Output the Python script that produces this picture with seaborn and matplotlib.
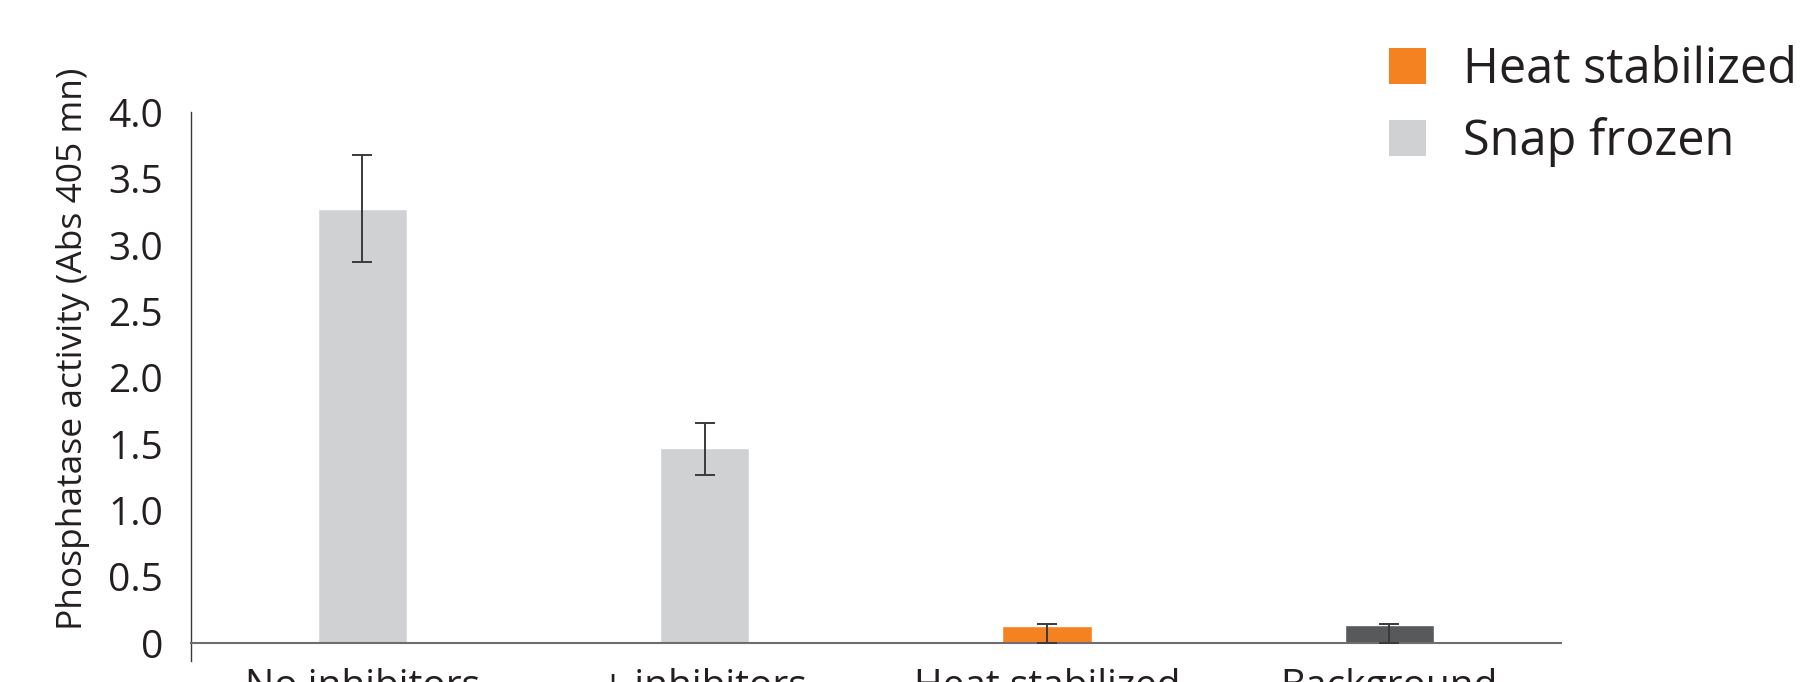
import matplotlib
matplotlib.use("Agg")
import matplotlib.pyplot as plt
from matplotlib.patches import Patch
from matplotlib.ticker import FixedLocator, FuncFormatter
import seaborn as sns
import pandas as pd

# Phosphatase activity per sample treatment
categories = ["No inhibitors", "+ inhibitors", "Heat stabilized", "Background"]
activity = [3.27, 1.47, 0.13, 0.138]
err_low = [0.40, 0.20, 0.13, 0.138]
err_high = [0.41, 0.19, 0.016, 0.008]
bar_colors = ["#d0d1d3", "#d0d1d3", "#f58220", "#58595b"]
legend_labels = ["Heat stabilized", "Snap frozen"]
legend_colors = ["#f58220", "#d0d1d3"]
y_ticks = [0, 0.5, 1.0, 1.5, 2.0, 2.5, 3.0, 3.5, 4.0]

sns.set_style("white")
plt.rcParams["font.family"] = ["Open Sans", "DejaVu Sans"]
TEXT = "#231f20"

df = pd.DataFrame({"sample": categories, "activity": activity})

fig = plt.figure(figsize=(18.05, 6.82), dpi=100)
ax = fig.add_axes([0.1058, 0.0312, 0.7588, 0.8041])

sns.barplot(data=df, x="sample", y="activity", hue="sample",
            palette=bar_colors, width=0.26, errorbar=None,
            legend=False, saturation=1, ax=ax, zorder=2)

ax.errorbar(range(len(categories)), activity, yerr=[err_low, err_high],
            fmt="none", ecolor="#3a3a3c", elinewidth=1.4, capsize=7.2,
            capthick=1.4, zorder=3)

ax.set_xlim(-0.5, 3.5)
ax.set_ylim(-0.131, 4.0)

# Axis lines: bottom spine sits on zero, left spine runs slightly below it
for side in ("top", "right"):
    ax.spines[side].set_visible(False)
ax.spines["bottom"].set_position(("data", 0))
ax.spines["bottom"].set_color("#6d6e71")
ax.spines["bottom"].set_linewidth(1.5)
ax.spines["left"].set_color("#3a3a3c")
ax.spines["left"].set_linewidth(1.0)

ax.yaxis.set_major_locator(FixedLocator(y_ticks))
ax.yaxis.set_major_formatter(FuncFormatter(lambda v, p: "0" if v == 0 else f"{v:.1f}"))
ax.tick_params(axis="y", which="major", length=0, pad=20, labelsize=28, labelcolor=TEXT)
ax.yaxis.set_minor_locator(FixedLocator([0, 4.0]))
ax.tick_params(axis="y", which="minor", length=6.2, width=1.2, color="#5a5a5c", direction="out")

ax.tick_params(axis="x", which="major", length=0, pad=18, labelsize=28, labelcolor=TEXT)
ax.xaxis.set_minor_locator(FixedLocator([3.5]))
ax.tick_params(axis="x", which="minor", length=13.5, width=1.2, color="#3a3a3c", direction="out")

ax.set_xlabel("")
ax.set_ylabel("Phosphatase activity (Abs 405 mn)", fontsize=25.5, color=TEXT)
ax.yaxis.set_label_coords(-0.0737, 0.568)

handles = [Patch(facecolor=c, edgecolor="none") for c in legend_colors]
fig.legend(handles, legend_labels, loc="upper left",
           bbox_to_anchor=(0.7695, 0.933), frameon=False, fontsize=35,
           handlelength=0.76, handleheight=0.76, handletextpad=0.76,
           labelspacing=0.44, borderpad=0, borderaxespad=0, labelcolor=TEXT)

fig.savefig("out.png", dpi=100)
